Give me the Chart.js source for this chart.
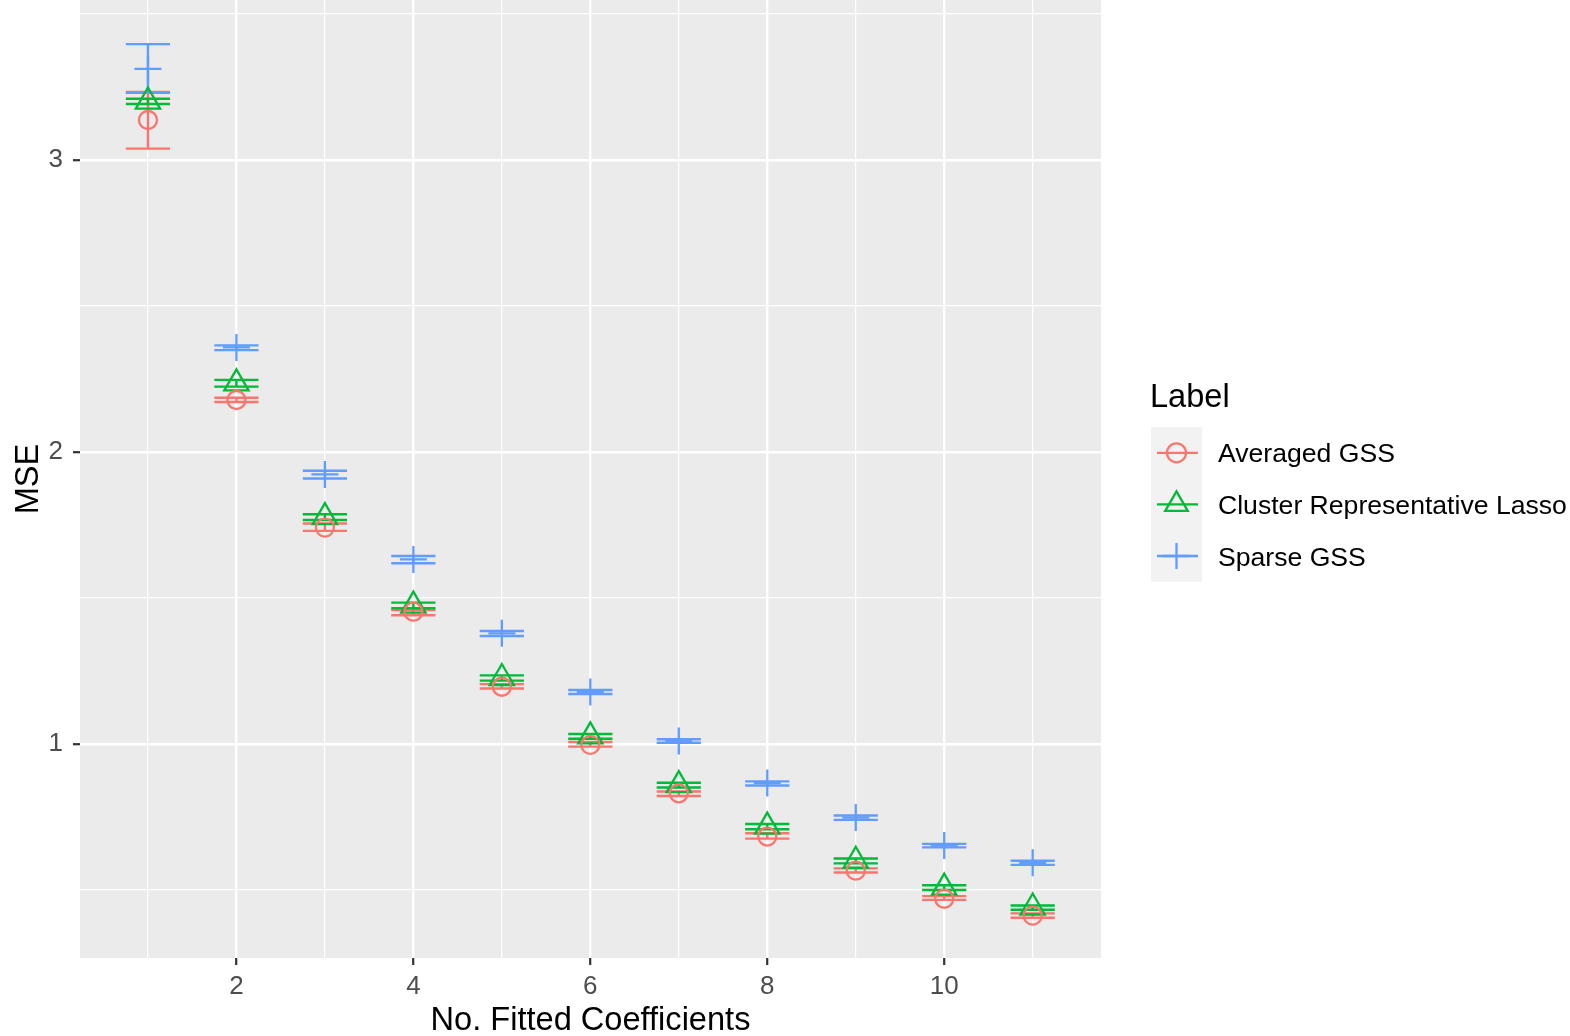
<!DOCTYPE html>
<html>
<head>
<meta charset="utf-8">
<script src="https://cdn.jsdelivr.net/npm/chart.js@4.4.1/dist/chart.umd.min.js"></script>
<style>
  html, body { margin: 0; padding: 0; background: #ffffff; }
  canvas { display: block; }
</style>
</head>
<body>
<canvas id="mseChart" width="1570" height="1036"></canvas>
<script>
// number of fitted coefficients
const coefCounts = [1, 2, 3, 4, 5, 6, 7, 8, 9, 10, 11];

// Averaged GSS
const avgMean = [3.137, 2.178, 1.741, 1.453, 1.196, 0.997, 0.831, 0.683, 0.566, 0.470, 0.412];
const avgLow  = [3.039, 2.171, 1.730, 1.441, 1.190, 0.991, 0.822, 0.676, 0.560, 0.466, 0.405];
const avgHigh = [3.233, 2.186, 1.755, 1.459, 1.205, 1.007, 0.837, 0.694, 0.574, 0.479, 0.420];

// Cluster Representative Lasso
const crlMean = [3.200, 2.235, 1.777, 1.474, 1.226, 1.026, 0.859, 0.717, 0.600, 0.508, 0.440];
const crlLow  = [3.192, 2.224, 1.767, 1.465, 1.217, 1.018, 0.851, 0.708, 0.591, 0.500, 0.432];
const crlHigh = [3.210, 2.247, 1.787, 1.484, 1.235, 1.034, 0.867, 0.726, 0.608, 0.516, 0.447];

// Sparse GSS
const sparseMean = [3.312, 2.358, 1.923, 1.632, 1.379, 1.178, 1.010, 0.866, 0.748, 0.652, 0.593];
const sparseLow  = [3.230, 2.349, 1.909, 1.619, 1.370, 1.171, 1.004, 0.858, 0.740, 0.646, 0.586];
const sparseHigh = [3.397, 2.365, 1.936, 1.644, 1.387, 1.185, 1.016, 0.872, 0.755, 0.658, 0.600];

const seriesNames = ['Averaged GSS', 'Cluster Representative Lasso', 'Sparse GSS'];

// axis breaks (major get labels, the rest are minor grid lines)
const xBreaks = [1, 2, 3, 4, 5, 6, 7, 8, 9, 10, 11];
const xLabels = [2, 4, 6, 8, 10];
const yBreaks = [0.5, 1, 1.5, 2, 2.5, 3, 3.5];
const yLabels = [1, 2, 3];

const COLORS = ['#F8766D', '#00BA38', '#619CFF'];
const SHAPES = ['circle', 'triangle', 'cross'];
const SIZES = [9, 14, 13.5];
const CAP_HALF = 0.25;
const FONT = '"Liberation Sans", Arial, Helvetica, sans-serif';

const seriesData = [
  { mean: avgMean, low: avgLow, high: avgHigh },
  { mean: crlMean, low: crlLow, high: crlHigh },
  { mean: sparseMean, low: sparseLow, high: sparseHigh }
];

const datasets = seriesData.map((s, k) => ({
  label: seriesNames[k],
  data: coefCounts.map((x, i) => ({ x: x, y: s.mean[i] })),
  pointStyle: SHAPES[k],
  pointRadius: SIZES[k],
  pointHoverRadius: SIZES[k],
  pointBorderWidth: 2.3,
  pointBorderColor: COLORS[k],
  pointBackgroundColor: 'rgba(0,0,0,0)',
  showLine: false
}));

function drawMarker(ctx, shape, x, y, r, color) {
  ctx.save();
  ctx.strokeStyle = color;
  ctx.lineWidth = 2.3;
  ctx.beginPath();
  if (shape === 'circle') {
    ctx.arc(x, y, r, 0, Math.PI * 2);
  } else if (shape === 'triangle') {
    for (let j = 0; j < 3; j++) {
      const a = j * 2 * Math.PI / 3;
      const px = x + Math.sin(a) * r, py = y - Math.cos(a) * r;
      if (j === 0) ctx.moveTo(px, py); else ctx.lineTo(px, py);
    }
    ctx.closePath();
  } else {
    ctx.moveTo(x - r, y); ctx.lineTo(x + r, y);
    ctx.moveTo(x, y - r); ctx.lineTo(x, y + r);
  }
  ctx.stroke();
  ctx.restore();
}

const ggPlugin = {
  id: 'ggPanel',
  beforeDraw(chart) {
    const { ctx, chartArea: a } = chart;
    ctx.save();
    ctx.fillStyle = '#ffffff';
    ctx.fillRect(0, 0, chart.width, chart.height);
    ctx.fillStyle = '#EBEBEB';
    ctx.fillRect(a.left, a.top, a.right - a.left, a.bottom - a.top);
    ctx.restore();
  },
  beforeDatasetsDraw(chart) {
    // error bars
    const { ctx, scales: { x, y } } = chart;
    ctx.save();
    ctx.lineWidth = 2.4;
    ctx.lineCap = 'butt';
    seriesData.forEach((s, k) => {
      ctx.strokeStyle = COLORS[k];
      coefCounts.forEach((c, i) => {
        const px = x.getPixelForValue(c);
        const l = x.getPixelForValue(c - CAP_HALF);
        const r = x.getPixelForValue(c + CAP_HALF);
        const yh = y.getPixelForValue(s.high[i]);
        const yl = y.getPixelForValue(s.low[i]);
        ctx.beginPath();
        ctx.moveTo(l, yh); ctx.lineTo(r, yh);
        ctx.moveTo(px, yh); ctx.lineTo(px, yl);
        ctx.moveTo(l, yl); ctx.lineTo(r, yl);
        ctx.stroke();
      });
    });
    ctx.restore();
  },
  afterDraw(chart) {
    const { ctx, chartArea: a } = chart;
    ctx.save();
    ctx.fillStyle = '#000000';

    // axis titles
    ctx.font = '32.6px ' + FONT;
    ctx.textAlign = 'center';
    ctx.textBaseline = 'alphabetic';
    ctx.fillText('No. Fitted Coefficients', (a.left + a.right) / 2, 1030);
    ctx.save();
    ctx.translate(38, (a.top + a.bottom) / 2);
    ctx.rotate(-Math.PI / 2);
    ctx.fillText('MSE', 0, 0);
    ctx.restore();

    // legend
    ctx.textAlign = 'left';
    ctx.fillText('Label', 1150, 407);
    const keyX = 1151, keyTop = 427, keyW = 51, rowH = 51.6;
    ctx.fillStyle = '#F2F2F2';
    ctx.fillRect(keyX, keyTop, keyW, rowH * 3);
    ctx.font = '26.6px ' + FONT;
    seriesNames.forEach((name, k) => {
      const cy = keyTop + rowH * (k + 0.5);
      const cx = keyX + keyW / 2;
      ctx.strokeStyle = COLORS[k];
      ctx.lineWidth = 2.3;
      ctx.beginPath();
      ctx.moveTo(keyX + 6, cy); ctx.lineTo(keyX + keyW - 4, cy);
      ctx.stroke();
      drawMarker(ctx, SHAPES[k], cx, cy, k === 0 ? 9.5 : 13, COLORS[k]);
      ctx.fillStyle = '#000000';
      ctx.fillText(name, 1218, cy + 9.5);
    });
    ctx.restore();
  }
};

new Chart(document.getElementById('mseChart'), {
  type: 'scatter',
  data: { datasets: datasets },
  plugins: [ggPlugin],
  options: {
    responsive: false,
    devicePixelRatio: 1,
    animation: false,
    layout: { autoPadding: false, padding: { top: 0, left: 0, right: 469, bottom: 0 } },
    plugins: {
      legend: { display: false },
      tooltip: { enabled: false },
      title: { display: false }
    },
    scales: {
      x: {
        type: 'linear',
        min: 0.232,
        max: 11.772,
        afterBuildTicks: s => { s.ticks = xBreaks.map(v => ({ value: v })); },
        afterFit: s => { s.height = 78; s.paddingLeft = 0; s.paddingRight = 0; },
        border: { display: false },
        grid: {
          color: '#ffffff',
          lineWidth: c => (c.tick && xLabels.includes(c.tick.value)) ? 2.4 : 1.2,
          drawTicks: true,
          tickLength: 7,
          tickWidth: 2.2,
          tickColor: c => (c.tick && xLabels.includes(c.tick.value)) ? '#333333' : 'rgba(0,0,0,0)'
        },
        ticks: {
          autoSkip: false,
          maxRotation: 0,
          padding: 6,
          color: '#4D4D4D',
          font: { family: FONT, size: 26 },
          callback: v => xLabels.includes(v) ? String(v) : ''
        }
      },
      y: {
        type: 'linear',
        min: 0.267,
        max: 3.548,
        afterBuildTicks: s => { s.ticks = yBreaks.map(v => ({ value: v })); },
        afterFit: s => { s.width = 80; s.paddingTop = 0; s.paddingBottom = 0; },
        border: { display: false },
        grid: {
          color: '#ffffff',
          lineWidth: c => (c.tick && yLabels.includes(c.tick.value)) ? 2.4 : 1.2,
          drawTicks: true,
          tickLength: 7,
          tickWidth: 2.2,
          tickColor: c => (c.tick && yLabels.includes(c.tick.value)) ? '#333333' : 'rgba(0,0,0,0)'
        },
        ticks: {
          autoSkip: false,
          padding: 10,
          color: '#4D4D4D',
          font: { family: FONT, size: 26 },
          callback: v => yLabels.includes(v) ? String(v) : ''
        }
      }
    }
  }
});
</script>
</body>
</html>
